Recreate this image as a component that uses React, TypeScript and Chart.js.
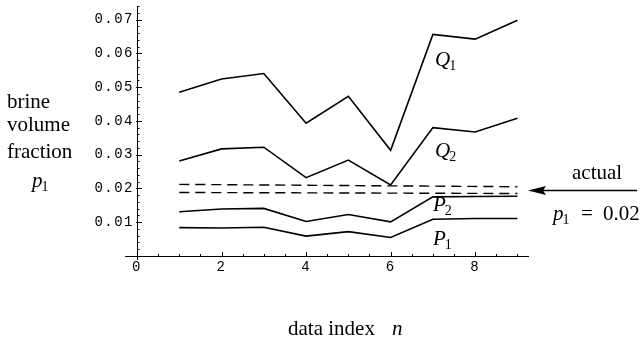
import React, { useEffect, useRef } from "react";
import { Chart, registerables } from "chart.js";
Chart.register(...registerables);

// ---- data ----
const dataIndex = [1, 2, 3, 4, 5, 6, 7, 8, 9];
const seriesQ1 = [0.0485, 0.0524, 0.054, 0.0393, 0.0473, 0.0313, 0.0656, 0.0642, 0.0698];
const seriesQ2 = [0.0281, 0.0317, 0.0322, 0.0232, 0.0284, 0.021, 0.038, 0.0367, 0.0408];
const seriesP2 = [0.0131, 0.0139, 0.0141, 0.0102, 0.0123, 0.0101, 0.0175, 0.0176, 0.0177];
const seriesP1 = [0.0084, 0.0083, 0.0085, 0.0059, 0.0072, 0.0055, 0.0109, 0.0111, 0.0111];
const dashX = [1, 9];
const dashUpper = [0.0212, 0.0205];
const dashLower = [0.0188, 0.0185];
const yTicks = [0.01, 0.02, 0.03, 0.04, 0.05, 0.06, 0.07];
const xTicks = [0, 2, 4, 6, 8];
const yTickLabels = ["0.01", "0.02", "0.03", "0.04", "0.05", "0.06", "0.07"];
const xTickLabels = ["0", "2", "4", "6", "8"];
const yMax = 0.074;
const xMax = 9.25;

const toPts = (xs: number[], ys: number[]) => xs.map((x, i) => ({ x, y: ys[i] }));

const SERIF = '"Liberation Serif", "Times New Roman", serif';
const MONO = '"Liberation Mono", "Courier New", monospace';

function italicSub(ctx: CanvasRenderingContext2D, main: string, sub: string, x: number, y: number) {
  ctx.font = `italic 21px ${SERIF}`;
  ctx.textAlign = "left";
  ctx.textBaseline = "alphabetic";
  ctx.fillText(main, x, y);
  const w = ctx.measureText(main).width;
  ctx.font = `14px ${SERIF}`;
  ctx.fillText(sub, x + w - 1, y + 4);
  ctx.font = `italic 21px ${SERIF}`;
  return w + 8;
}

const decor = {
  id: "decor",
  beforeDraw(chart: any) {
    (chart.ctx as any).letterSpacing = "1.5px";
  },
  beforeDatasetsDraw(chart: any) {
    (chart.ctx as any).letterSpacing = "0px";
  },
  afterDraw(chart: any) {
    const ctx: CanvasRenderingContext2D = chart.ctx;
    (ctx as any).letterSpacing = "0px";
    const xs = chart.scales.x;
    const ys = chart.scales.y;
    const x0 = xs.getPixelForValue(0);
    const y0 = ys.getPixelForValue(0);
    ctx.save();
    ctx.strokeStyle = "#000";
    ctx.fillStyle = "#000";
    ctx.lineWidth = 1;
    // x axis extension to the left of the origin
    ctx.beginPath();
    ctx.moveTo(xs.getPixelForValue(-0.28), y0 + 0.5);
    ctx.lineTo(x0, y0 + 0.5);
    ctx.stroke();
    // y axis stub below origin
    ctx.beginPath();
    ctx.moveTo(x0 + 0.5, y0);
    ctx.lineTo(x0 + 0.5, y0 + 4);
    ctx.stroke();
    // y ticks (major + minor) inward
    ctx.beginPath();
    for (let k = 1; k * 0.002 <= yMax + 1e-9; k++) {
      const v = k * 0.002;
      const py = Math.round(ys.getPixelForValue(v)) + 0.5;
      const major = k % 5 === 0;
      ctx.moveTo(x0 - (major ? 1 : 0), py);
      ctx.lineTo(x0 + (major ? 5 : 2.5), py);
    }
    // x ticks
    for (let k = 1; k * 0.5 <= xMax; k++) {
      const v = k * 0.5;
      const px = Math.round(xs.getPixelForValue(v)) + 0.5;
      const major = k % 4 === 0;
      ctx.moveTo(px, y0 + (major ? 1 : 0));
      ctx.lineTo(px, y0 - (major ? 4 : 2));
    }
    ctx.stroke();

    // left axis label
    ctx.font = `21px ${SERIF}`;
    ctx.textAlign = "left";
    ctx.textBaseline = "alphabetic";
    ctx.fillText("brine", 7, 108);
    ctx.fillText("volume", 7, 131);
    ctx.fillText("fraction", 7, 158);
    italicSub(ctx, "p", "1", 32, 187);

    // bottom axis label
    ctx.font = `21px ${SERIF}`;
    ctx.fillText("data index", 288, 335);
    ctx.font = `italic 21px ${SERIF}`;
    ctx.fillText("n", 392, 335);

    // series labels
    italicSub(ctx, "Q", "1", 435, 66);
    italicSub(ctx, "Q", "2", 435, 157);
    italicSub(ctx, "P", "2", 433, 211);
    italicSub(ctx, "P", "1", 433, 245);

    // arrow + annotation
    const ay = 190.5;
    ctx.lineWidth = 1.5;
    ctx.beginPath();
    ctx.moveTo(540, ay);
    ctx.lineTo(637, ay);
    ctx.stroke();
    ctx.beginPath();
    ctx.moveTo(528, ay);
    ctx.lineTo(546, ay - 4.5);
    ctx.lineTo(543, ay);
    ctx.lineTo(546, ay + 4.5);
    ctx.closePath();
    ctx.fill();
    ctx.font = `21px ${SERIF}`;
    ctx.fillText("actual", 572, 179);
    italicSub(ctx, "p", "1", 553, 220);
    ctx.font = `21px ${SERIF}`;
    ctx.fillText("=", 581, 220);
    ctx.fillText("0.02", 603, 220);
    ctx.restore();
  },
};

export default function App() {
  const ref = useRef<HTMLCanvasElement | null>(null);
  useEffect(() => {
    if (!ref.current) return;
    const lineDs = (label: string, ys: number[]) => ({
      label,
      data: toPts(dataIndex, ys),
      borderColor: "#000",
      borderWidth: 1.6,
      pointRadius: 0,
      fill: false,
      tension: 0,
    });
    const dashDs = (label: string, ys: number[]) => ({
      label,
      data: toPts(dashX, ys),
      borderColor: "#000",
      borderWidth: 1.4,
      borderDash: [10, 6],
      pointRadius: 0,
      fill: false,
    });
    const chart = new Chart(ref.current, {
      type: "line",
      data: {
        datasets: [
          lineDs("Q1", seriesQ1),
          lineDs("Q2", seriesQ2),
          lineDs("P2", seriesP2),
          lineDs("P1", seriesP1),
          dashDs("upper", dashUpper),
          dashDs("lower", dashLower),
        ],
      },
      options: {
        responsive: false,
        animation: false,
        devicePixelRatio: 1,
        layout: { padding: { top: 6, right: 114, bottom: 0, left: 0 } },
        plugins: { legend: { display: false }, tooltip: { enabled: false }, title: { display: false } },
        scales: {
          x: {
            type: "linear",
            min: 0,
            max: xMax,
            grid: { display: false, drawTicks: false },
            border: { display: true, color: "#000", width: 1 },
            afterBuildTicks: (s: any) => {
              s.ticks = xTicks.map((v) => ({ value: v }));
            },
            afterFit: (s: any) => {
              s.height = 85;
              s.paddingLeft = 0;
              s.paddingRight = 0;
            },
            ticks: {
              color: "#000",
              padding: 3,
              maxRotation: 0,
              autoSkip: false,
              font: { family: MONO, size: 14 },
              callback: (v: any) => xTickLabels[xTicks.indexOf(Number(v))] ?? "",
            },
          },
          y: {
            type: "linear",
            min: 0,
            max: yMax,
            grid: { display: false, drawTicks: false },
            border: { display: true, color: "#000", width: 1 },
            afterBuildTicks: (s: any) => {
              s.ticks = yTicks.map((v) => ({ value: v }));
            },
            afterFit: (s: any) => {
              s.width = 137;
              s.paddingTop = 0;
              s.paddingBottom = 0;
            },
            ticks: {
              color: "#000",
              padding: 3,
              autoSkip: false,
              font: { family: MONO, size: 14 },
              callback: (v: any) => {
                const i = yTicks.findIndex((t) => Math.abs(t - Number(v)) < 1e-9);
                return i >= 0 ? yTickLabels[i] : "";
              },
            },
          },
        },
      },
      plugins: [decor],
    } as any);
    return () => chart.destroy();
  }, []);
  return (
    <div style={{ position: "absolute", left: 0, top: 0, width: 642, height: 341, background: "#fff" }}>
      <canvas ref={ref} width={642} height={341} style={{ display: "block", width: 642, height: 341 }} />
    </div>
  );
}
